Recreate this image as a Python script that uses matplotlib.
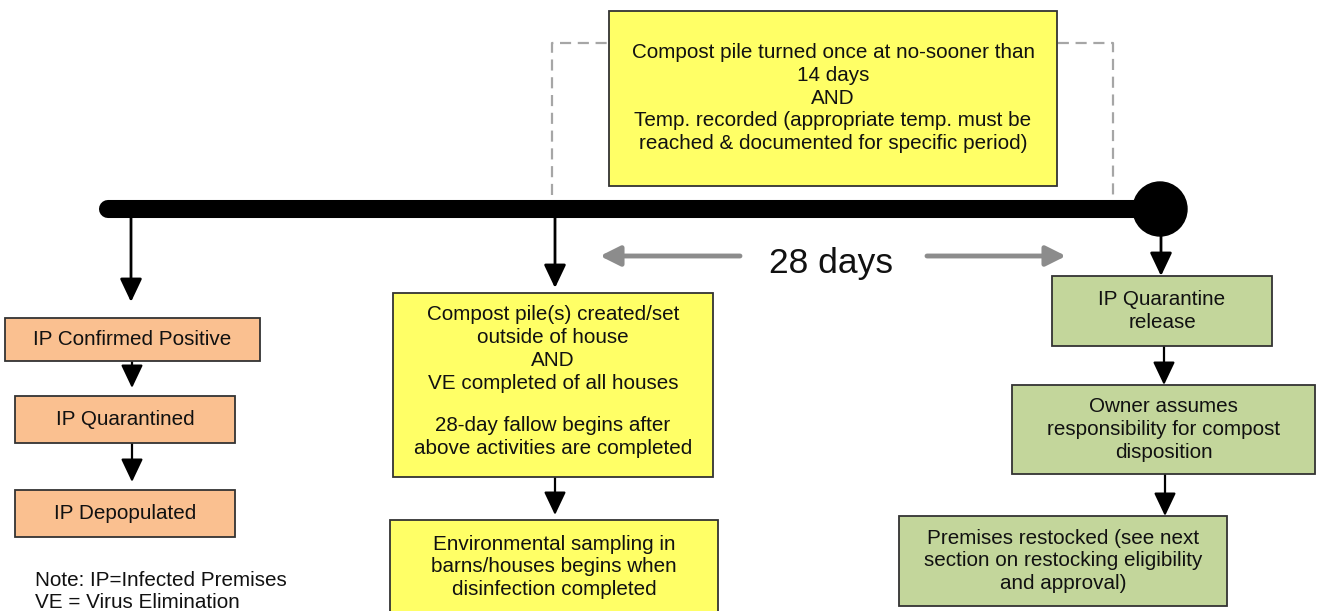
import matplotlib
matplotlib.use("Agg")
import matplotlib.pyplot as plt
from matplotlib.patches import Rectangle, Circle

# box texts
orange_labels = ["IP Confirmed Positive", "IP Quarantined", "IP Depopulated"]
middle_labels = [
    "Compost pile(s) created/set\noutside of house\nAND\nVE completed of all houses",
    "Environmental sampling in\nbarns/houses begins when\ndisinfection completed",
]
middle_sub = "28-day fallow begins after\nabove activities are completed"
green_labels = [
    "IP Quarantine\nrelease",
    "Owner assumes\nresponsibility for compost\ndisposition",
    "Premises restocked (see next\nsection on restocking eligibility\nand approval)",
]
top_label = ("Compost pile turned once at no-sooner than\n14 days\nAND\n"
             "Temp. recorded (appropriate temp. must be\nreached & documented for specific period)")
span_label = "28 days"
note_lines = ["Note: IP=Infected Premises", "VE = Virus Elimination"]

# layout in pixels: (x0, y0, x1, y1)
orange_boxes = [(5, 318, 260, 361), (15, 396, 235, 443), (15, 490, 235, 537)]
middle_boxes = [(393, 293, 713, 477), (390, 520, 718, 640)]
green_boxes = [(1052, 276, 1272, 346), (1012, 385, 1315, 474), (899, 516, 1227, 606)]
top_box = (609, 11, 1057, 186)

ORANGE = "#FAC090"
YELLOW = "#FFFF66"
GREEN = "#C3D69B"
EDGE = "#333333"
FS = 14.9
LS = 1.25

fig = plt.figure(figsize=(13.18, 6.11), dpi=100)
ax = fig.add_axes([0, 0, 1, 1])
ax.set_xlim(0, 1318)
ax.set_ylim(611, 0)
ax.axis("off")
plt.rcParams["font.family"] = ["Liberation Sans", "DejaVu Sans"]


def box(b, color, text=None, ty=None):
    x0, y0, x1, y1 = b
    ax.add_patch(Rectangle((x0, y0), x1 - x0, y1 - y0, facecolor=color,
                           edgecolor=EDGE, lw=1.3, zorder=3))
    if text is not None:
        cy = (y0 + y1) / 2 if ty is None else ty
        ax.text((x0 + x1) / 2, cy, text, ha="center", va="center", fontsize=FS,
                linespacing=LS, color="#111111", zorder=4)


def arrow(x0, y0, x1, y1, color="black", lw=1.6, ms=15, hl=0.95, hw=0.45):
    ax.annotate("", xy=(x1, y1), xytext=(x0, y0),
                arrowprops=dict(arrowstyle=f"-|>,head_length={hl},head_width={hw}",
                                color=color, lw=lw, mutation_scale=ms,
                                shrinkA=0, shrinkB=0), zorder=2)


# dashed bracket behind top box
ax.plot([552, 552, 1113, 1113], [195, 43, 43, 195], color="#A6A6A6",
        lw=1.6, linestyle=(0, (5, 3)), zorder=1)

# timeline
ax.plot([108, 1160], [209, 209], color="black", lw=13, solid_capstyle="round", zorder=2)
ax.add_patch(Circle((1160, 209), 27, color="black", zorder=2))

# top box
box(top_box, YELLOW, top_label, ty=98)

# left column
arrow(131, 215, 131, 302, lw=2)
for lab, b in zip(orange_labels, orange_boxes):
    box(b, ORANGE, lab)
arrow(132, 361, 132, 388)
arrow(132, 443, 132, 482)

for i, line in enumerate(note_lines):
    ax.text(35, 581 + 21 * i, line, ha="left", va="center", fontsize=FS, color="#111111")

# middle column
arrow(555, 215, 555, 288, lw=2)
box(middle_boxes[0], YELLOW, middle_labels[0], ty=349)
ax.text(553, 437, middle_sub, ha="center", va="center", fontsize=FS,
        linespacing=LS, color="#111111", zorder=4)
arrow(555, 477, 555, 515)
box(middle_boxes[1], YELLOW, middle_labels[1], ty=567)

# 28 days span
ax.text(831, 263, span_label, ha="center", va="center", fontsize=25.5, color="#111111")
arrow(740, 256, 600, 256, color="#8C8C8C", lw=3.5, ms=12, hl=1.0, hw=0.5)
arrow(927, 256, 1066, 256, color="#8C8C8C", lw=3.5, ms=12, hl=1.0, hw=0.5)

# right column
arrow(1161, 230, 1161, 276, lw=2)
for lab, b in zip(green_labels, green_boxes):
    box(b, GREEN, lab)
arrow(1164, 346, 1164, 385)
arrow(1165, 474, 1165, 516)

fig.savefig("out.png", dpi=100)
